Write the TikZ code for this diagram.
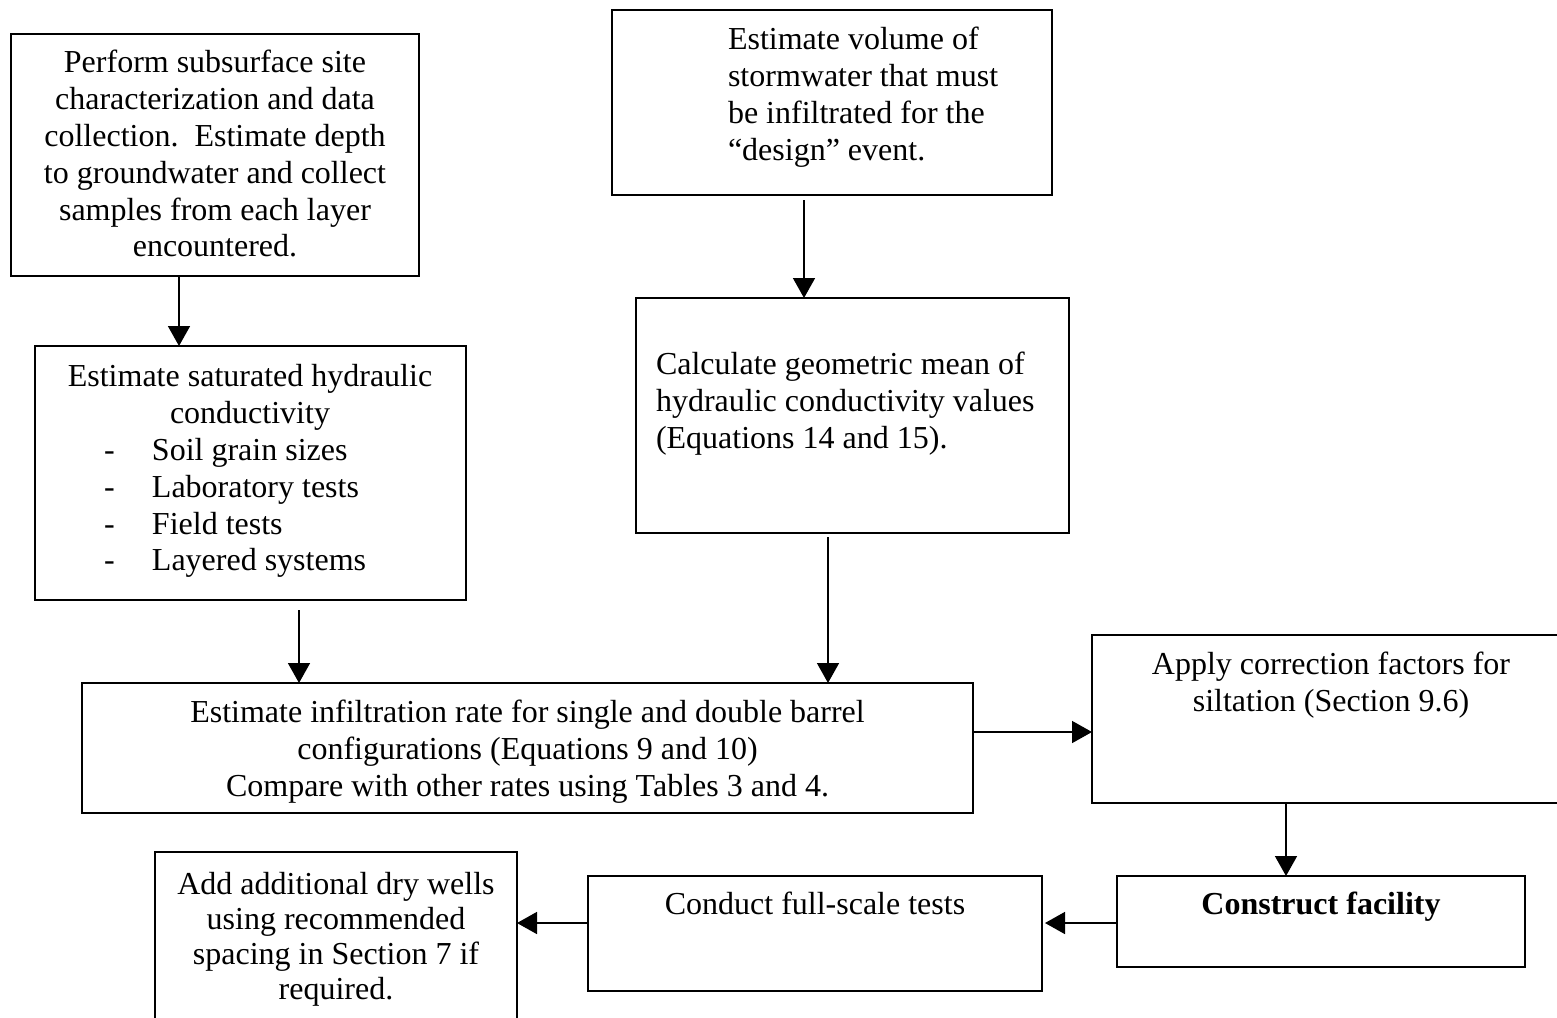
\documentclass[tikz,border=0pt]{standalone}
\usepackage{fontspec}
\setmainfont{Liberation Serif}
\usetikzlibrary{arrows.meta}
\begin{document}
\begin{tikzpicture}[x=1pt,y=-1pt,
  box/.style={draw=black, line width=1.8pt, rectangle, inner sep=0pt, outer sep=0pt},
  txt/.style={inner sep=0pt, outer sep=0pt, align=center, font=\fontsize{32}{36.8}\selectfont},
  txtl/.style={inner sep=0pt, outer sep=0pt, align=left, font=\fontsize{32}{36.8}\selectfont},
  arr/.style={line width=1.6pt, -{Triangle[length=20pt,width=22pt]}}]
\useasboundingbox (0,0) rectangle (1557,1017);
% boxes
\node[box, minimum width=408, minimum height=242] (b1) at (215,155) {};
\node[box, minimum width=431, minimum height=254] (b2) at (250.5,473) {};
\node[box, minimum width=440, minimum height=185] (b3) at (832,102.5) {};
\node[box, minimum width=433, minimum height=235] (b4) at (852.5,415.5) {};
\node[box, minimum width=891, minimum height=130] (b5) at (527.5,748) {};
\node[box, minimum width=480, minimum height=168] (b6) at (1332,719) {};
\node[box, minimum width=408, minimum height=91] (b7) at (1321,921.5) {};
\node[box, minimum width=454, minimum height=115] (b8) at (815,933.5) {};
\node[box, minimum width=362, minimum height=178] (b9) at (336,941) {};
% texts
\node[txt, anchor=north] (t1) at (215,47.2) {\strut Perform subsurface site\\characterization and data\\collection.\ \ Estimate depth\\to groundwater and collect\\samples from each layer\\encountered.};
\node[txt, anchor=north] (t2) at (250,361.2) {\strut Estimate saturated hydraulic\\conductivity};
\node[txtl, anchor=north west] (t2l) at (104,434.8) {\strut\makebox[48pt][l]{-}Soil grain sizes\\\makebox[48pt][l]{-}Laboratory tests\\\makebox[48pt][l]{-}Field tests\\\makebox[48pt][l]{-}Layered systems};
\node[txtl, anchor=north west] (t3) at (728,24.2) {\strut Estimate volume of\\stormwater that must\\be infiltrated for the\\``design'' event.};
\node[txtl, anchor=north west] (t4) at (656,349.2) {\strut Calculate geometric mean of\\hydraulic conductivity values\\(Equations 14 and 15).};
\node[txt, anchor=north] (t5) at (527.5,697) {\strut Estimate infiltration rate for single and double barrel\\configurations (Equations 9 and 10)\\Compare with other rates using Tables 3 and 4.};
\node[txt, anchor=north] (t6) at (1331,649) {\strut Apply correction factors for\\siltation (Section 9.6)};
\node[txt, anchor=north] (t7) at (1321,889) {\strut\bfseries Construct facility};
\node[txt, anchor=north] (t8) at (815,889) {\strut Conduct full-scale tests};
\node[txt, anchor=north, font=\fontsize{32}{35}\selectfont] (t9) at (336,870) {\strut Add additional dry wells\\using recommended\\spacing in Section 7 if\\required.};
% connector positions
\coordinate (x1) at (179,0);
\coordinate (x2) at (804,200);
\coordinate (x3) at (299,610);
\coordinate (x4) at (828,537);
\coordinate (y5) at (0,732);
\coordinate (x6) at (1286,0);
\coordinate (y7) at (1045,923);
\coordinate (y8) at (0,923);
% connectors
\draw[arr] (b1.south -| x1) -- (b2.north -| x1);
\draw[arr] (x2) -- (b4.north -| x2);
\draw[arr] (x3) -- (b5.north -| x3);
\draw[arr] (x4) -- (b5.north -| x4);
\draw[arr] (b5.east |- y5) -- (b6.west |- y5);
\draw[arr] (b6.south -| x6) -- (b7.north -| x6);
\draw[arr] (b7.west |- y7) -- (y7);
\draw[arr] (b8.west |- y8) -- (b9.east |- y8);
\end{tikzpicture}
\end{document}
